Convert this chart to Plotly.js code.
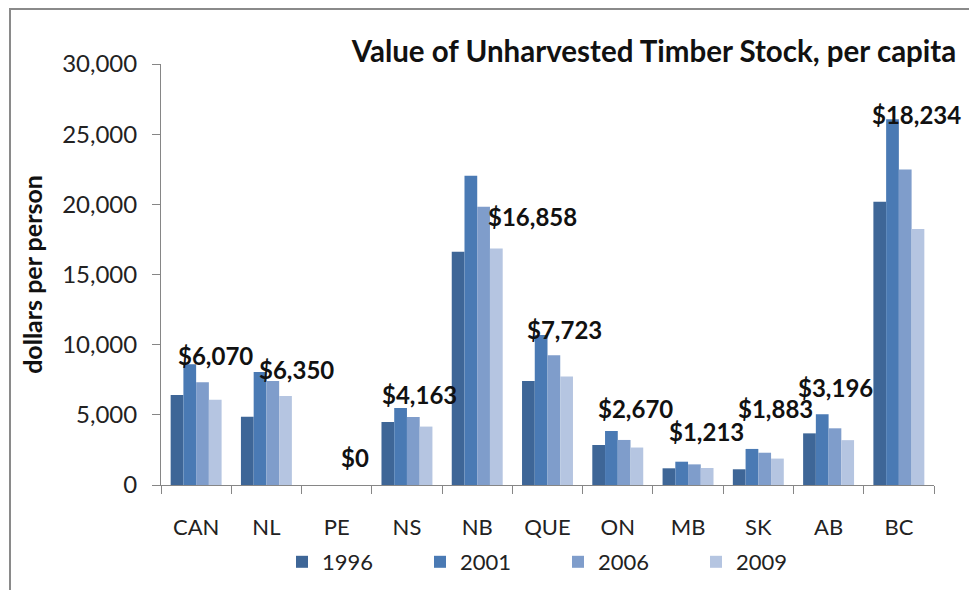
<!DOCTYPE html>
<html>
<head>
<meta charset="utf-8">
<script src="https://cdn.plot.ly/plotly-3.0.1.min.js"></script>
<style>
  html, body { margin: 0; padding: 0; background: #ffffff; }
  #wrap { position: relative; width: 969px; height: 590px; overflow: hidden; }
  #chart { width: 969px; height: 590px; }
  #frame { position: absolute; left: 9px; top: 8px; width: 1000px; height: 700px;
           border-left: 2px solid #8a8a8a; border-top: 2px solid #8a8a8a; pointer-events: none; }
</style>
</head>
<body>
<div id="wrap">
  <div id="chart"></div>
  <div id="frame"></div>
</div>
<script>
// ---- data ----
const categories = ["CAN", "NL", "PE", "NS", "NB", "QUE", "ON", "MB", "SK", "AB", "BC"];
const years = ["1996", "2001", "2006", "2009"];
const values1996 = [6410, 4870, 0, 4490, 16630, 7410, 2850, 1190, 1120, 3680, 20190];
const values2001 = [8600, 8050, 0, 5490, 22040, 10690, 3850, 1660, 2570, 5040, 26060];
const values2006 = [7320, 7410, 0, 4850, 19830, 9240, 3210, 1470, 2300, 4040, 22490];
const values2009 = [6070, 6350, 0, 4163, 16858, 7723, 2670, 1213, 1883, 3196, 18234];
const yTickVals = [0, 5000, 10000, 15000, 20000, 25000, 30000];
const yTickText = ["0", "5,000", "10,000", "15,000", "20,000", "25,000", "30,000"];

const series = [values1996, values2001, values2006, values2009];
const colors = ["#3e6697", "#4a7ab4", "#7f9dcb", "#b5c5e1"];

const traces = series.map((vals, i) => ({
  type: "bar",
  name: years[i],
  x: categories,
  y: vals,
  marker: { color: colors[i], line: { width: 0 } },
  hoverinfo: "x+y+name"
}));

// label placement offsets (pixels) relative to the tallest bar of each group
const labelDx = [19, 30, 18, 13, 55, 17, 18, 18, 17, 7, 18];
const labelDy = [9, 3, 28, 13, -41, 5, 22, 30, 40, 27, 5];

const fmt = v => "$" + v.toLocaleString("en-US");
const annotations = categories.map((c, i) => ({
  x: c, xref: "x",
  y: Math.max(values1996[i], values2001[i], values2006[i], values2009[i]), yref: "y",
  text: fmt(values2009[i]),
  showarrow: false,
  xanchor: "center", yanchor: "middle",
  xshift: labelDx[i], yshift: labelDy[i],
  font: { family: "Lato, sans-serif", size: 24, color: "#111111", weight: "bold" }
}));

const layout = {
  width: 969, height: 590,
  margin: { l: 161, r: 35, t: 64, b: 105, pad: 0, autoexpand: false },
  paper_bgcolor: "#ffffff",
  plot_bgcolor: "#ffffff",
  barmode: "group",
  bargap: 0.275,
  bargroupgap: 0,
  showlegend: true,
  title: {
    text: "<b>Value of Unharvested Timber Stock, per capita</b>",
    x: 654 / 969, xref: "container", xanchor: "center",
    y: 1 - 52 / 590, yref: "container", yanchor: "middle",
    font: { family: "Lato, sans-serif", size: 29.5, color: "#111111" }
  },
  font: { family: "Lato, sans-serif", color: "#222222" },
  xaxis: {
    type: "category",
    range: [-0.5, categories.length - 0.5],
    tickson: "boundaries",
    ticks: "outside", ticklen: 8, tickcolor: "#868686", tickwidth: 1,
    showline: true, linecolor: "#868686", linewidth: 1,
    showgrid: false, zeroline: false,
    tickfont: { family: "Lato, sans-serif", size: 22, color: "#222222" },
    ticklabelstandoff: 23,
    automargin: false
  },
  yaxis: {
    range: [0, 30000],
    tickvals: yTickVals, ticktext: yTickText,
    ticks: "outside", ticklen: 8, tickcolor: "#868686", tickwidth: 1,
    showline: true, linecolor: "#868686", linewidth: 1,
    showgrid: false, zeroline: false,
    tickfont: { family: "Lato, sans-serif", size: 24, color: "#222222" },
    ticklabelstandoff: 10,
    title: {
      text: "<b>dollars per person</b>",
      font: { family: "Lato, sans-serif", size: 25, color: "#111111" },
      standoff: 12
    },
    automargin: false
  },
  legend: {
    orientation: "h",
    xref: "container", yref: "container",
    x: 282 / 969, xanchor: "left",
    y: 1 - 562 / 590, yanchor: "middle",
    entrywidth: 93, entrywidthmode: "pixels",
    font: { family: "Lato, sans-serif", size: 22, color: "#222222" },
    itemclick: false
  },
  annotations: annotations
};

Plotly.newPlot("chart", traces, layout, { displayModeBar: false, staticPlot: true });
</script>
</body>
</html>
